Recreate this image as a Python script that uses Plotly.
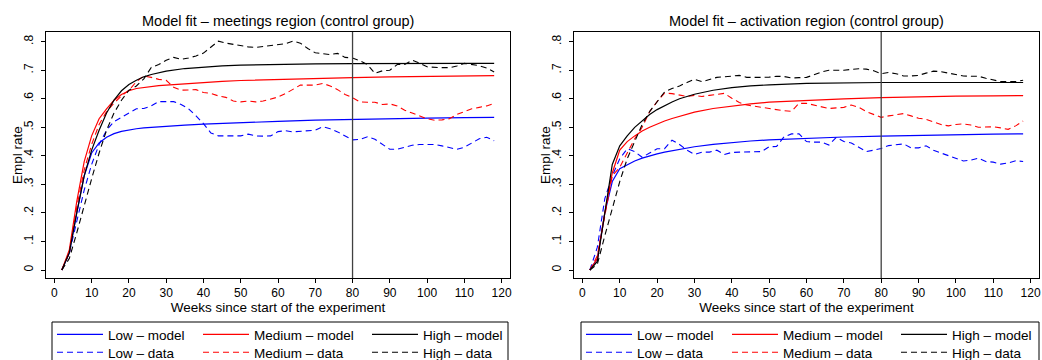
import plotly.graph_objects as go

# ---------------- data ----------------
weeks = list(range(2, 120, 2))
model_weeks = [2, 4, 6, 8, 10, 12, 14, 16, 18, 20, 22, 24, 26, 28, 30,
               35, 40, 45, 50, 60, 70, 80, 90, 100, 110, 118]

# Meetings region
meet_low_model = [0, 0.06, 0.2, 0.33, 0.41, 0.445, 0.465, 0.478, 0.486, 0.491, 0.495, 0.498, 0.5,
                  0.502, 0.504, 0.508, 0.511, 0.514, 0.517, 0.521, 0.525, 0.528, 0.53, 0.532, 0.534, 0.535]
meet_med_model = [0, 0.07, 0.24, 0.38, 0.47, 0.53, 0.565, 0.595, 0.615, 0.628, 0.636, 0.64, 0.643,
                  0.646, 0.648, 0.653, 0.658, 0.661, 0.664, 0.668, 0.671, 0.674, 0.677, 0.679, 0.68, 0.681]
meet_high_model = [0, 0.06, 0.2, 0.33, 0.42, 0.49, 0.55, 0.595, 0.628, 0.65, 0.665, 0.677, 0.685,
                   0.692, 0.697, 0.706, 0.711, 0.715, 0.718, 0.721, 0.722, 0.723, 0.724, 0.724, 0.724, 0.724]

meet_low_data = [0, 0.06, 0.17, 0.28, 0.37, 0.44, 0.49, 0.52, 0.535, 0.55,
                 0.565, 0.566, 0.575, 0.59, 0.59, 0.59, 0.58, 0.565, 0.54, 0.513,
                 0.48, 0.47, 0.47, 0.469, 0.47, 0.476, 0.47, 0.469, 0.47, 0.485,
                 0.488, 0.484, 0.486, 0.488, 0.49, 0.502, 0.495, 0.484, 0.47, 0.456,
                 0.458, 0.467, 0.458, 0.44, 0.423, 0.423, 0.43, 0.437, 0.44, 0.44,
                 0.44, 0.435, 0.428, 0.423, 0.43, 0.445, 0.46, 0.465, 0.453]
meet_med_data = [0, 0.06, 0.22, 0.35, 0.44, 0.51, 0.555, 0.585, 0.61, 0.63,
                 0.66, 0.68, 0.675, 0.668, 0.665, 0.64, 0.63, 0.632, 0.632, 0.622,
                 0.619, 0.61, 0.605, 0.592, 0.589, 0.592, 0.589, 0.592, 0.6, 0.606,
                 0.618, 0.632, 0.648, 0.648, 0.648, 0.654, 0.645, 0.632, 0.615, 0.604,
                 0.589, 0.588, 0.588, 0.58, 0.582, 0.575, 0.56, 0.55, 0.54, 0.53,
                 0.525, 0.526, 0.53, 0.545, 0.555, 0.565, 0.57, 0.575, 0.584]
meet_high_data = [0, 0.04, 0.13, 0.23, 0.32, 0.41, 0.49, 0.55, 0.595, 0.63,
                  0.645, 0.67, 0.71, 0.72, 0.735, 0.745, 0.738, 0.743, 0.75, 0.76,
                  0.78, 0.802, 0.795, 0.79, 0.787, 0.782, 0.78, 0.783, 0.787, 0.79,
                  0.793, 0.802, 0.795, 0.776, 0.761, 0.758, 0.755, 0.759, 0.745, 0.743,
                  0.733, 0.72, 0.689, 0.698, 0.70, 0.72, 0.72, 0.735, 0.725, 0.712,
                  0.71, 0.709, 0.709, 0.715, 0.724, 0.72, 0.716, 0.708, 0.694]

# Activation region
act_low_model = [0, 0.04, 0.2, 0.31, 0.355, 0.37, 0.382, 0.392, 0.4, 0.407, 0.413, 0.418, 0.423,
                 0.428, 0.432, 0.44, 0.447, 0.452, 0.456, 0.462, 0.466, 0.469, 0.472, 0.474, 0.476, 0.477]
act_med_model = [0, 0.04, 0.2, 0.34, 0.42, 0.45, 0.47, 0.487, 0.5, 0.512, 0.522, 0.531, 0.539,
                 0.546, 0.553, 0.566, 0.575, 0.582, 0.588, 0.595, 0.6, 0.604, 0.607, 0.609, 0.61, 0.611]
act_high_model = [0, 0.03, 0.2, 0.37, 0.435, 0.47, 0.5, 0.524, 0.545, 0.562, 0.577, 0.589, 0.6,
                  0.609, 0.616, 0.63, 0.639, 0.645, 0.649, 0.654, 0.656, 0.657, 0.657, 0.657, 0.657, 0.657]

act_low_data = [0, 0.08, 0.25, 0.33, 0.39, 0.425, 0.415, 0.395, 0.41, 0.425,
                0.425, 0.455, 0.44, 0.42, 0.405, 0.413, 0.413, 0.42, 0.405, 0.412,
                0.413, 0.413, 0.413, 0.415, 0.432, 0.433, 0.467, 0.477, 0.477, 0.45,
                0.448, 0.448, 0.438, 0.465, 0.45, 0.445, 0.43, 0.415, 0.42, 0.426,
                0.436, 0.44, 0.442, 0.428, 0.428, 0.435, 0.42, 0.41, 0.4, 0.39,
                0.382, 0.385, 0.392, 0.38, 0.378, 0.371, 0.375, 0.383, 0.38]
act_med_data = [0, 0.05, 0.19, 0.33, 0.36, 0.41, 0.46, 0.5, 0.555, 0.59,
                0.62, 0.618, 0.612, 0.608, 0.612, 0.608, 0.612, 0.615, 0.619, 0.602,
                0.587, 0.578, 0.574, 0.568, 0.564, 0.562, 0.558, 0.556, 0.584, 0.584,
                0.578, 0.572, 0.566, 0.568, 0.57, 0.578, 0.57, 0.555, 0.545, 0.535,
                0.54, 0.545, 0.548, 0.54, 0.532, 0.528, 0.52, 0.51, 0.505, 0.51,
                0.512, 0.508, 0.5, 0.5, 0.502, 0.498, 0.493, 0.505, 0.522]
act_high_data = [0, 0.02, 0.12, 0.22, 0.31, 0.39, 0.45, 0.51, 0.555, 0.59,
                 0.624, 0.636, 0.645, 0.657, 0.668, 0.66, 0.668, 0.675, 0.677, 0.68,
                 0.682, 0.675, 0.674, 0.675, 0.676, 0.679, 0.678, 0.673, 0.674, 0.675,
                 0.684, 0.694, 0.7, 0.7, 0.7, 0.703, 0.705, 0.704, 0.698, 0.688,
                 0.692, 0.688, 0.68, 0.68, 0.682, 0.69, 0.697, 0.695, 0.69, 0.686,
                 0.68, 0.679, 0.679, 0.672, 0.666, 0.66, 0.66, 0.66, 0.665]

groups = ["Low", "Medium", "High"]
panel_titles = ["Model fit \u2013 meetings region (control group)",
                "Model fit \u2013 activation region (control group)"]
x_tick_vals = [0, 10, 20, 30, 40, 50, 60, 70, 80, 90, 100, 110, 120]
y_tick_vals = [0, 0.1, 0.2, 0.3, 0.4, 0.5, 0.6, 0.7, 0.8]
y_tick_text = ["0", ".1", ".2", ".3", ".4", ".5", ".6", ".7", ".8"]
cutoff_week = 80
x_title = "Weeks since start of the experiment"
y_title = "Empl rate"

# ---------------- styling ----------------
W, H = 1042, 360
FONT = "Liberation Sans, Arial, sans-serif"
colors = {"Low": "#0000ff", "Medium": "#ff0000", "High": "#000000"}


def fx(p):
    return p / W


def fy(p):
    return 1 - p / H


panels = [
    dict(xa="x", ya="y", left=46, right=510,
         model=[meet_low_model, meet_med_model, meet_high_model],
         data=[meet_low_data, meet_med_data, meet_high_data], box=(52, 508)),
    dict(xa="x2", ya="y2", left=574, right=1039,
         model=[act_low_model, act_med_model, act_high_model],
         data=[act_low_data, act_med_data, act_high_data], box=(581, 1039)),
]

fig = go.Figure()
legend_layouts = {}
item_offsets = [5, 151, 320]
row_tops = [319, 337]
legend_counter = [0]


def new_legend(xpx, ypx):
    legend_counter[0] += 1
    n = legend_counter[0]
    name = "legend" if n == 1 else f"legend{n}"
    legend_layouts[name] = dict(
        x=fx(xpx), y=fy(ypx), xanchor="left", yanchor="top", orientation="v",
        bgcolor="rgba(0,0,0,0)", borderwidth=0, tracegroupgap=0,
        itemwidth=46, itemclick=False, itemdoubleclick=False,
        font=dict(family=FONT, size=13.5, color="black"))
    return name


for p in panels:
    for gi, g in enumerate(groups):
        lx = p["box"][0] + item_offsets[gi] - 5
        fig.add_trace(go.Scatter(
            x=model_weeks, y=p["model"][gi], mode="lines",
            name=f"{g} \u2013 model", xaxis=p["xa"], yaxis=p["ya"],
            line=dict(color=colors[g], width=1.2),
            legend=new_legend(lx, row_tops[0]), hoverinfo="skip"))
        fig.add_trace(go.Scatter(
            x=weeks, y=p["data"][gi], mode="lines",
            name=f"{g} \u2013 data", xaxis=p["xa"], yaxis=p["ya"],
            line=dict(color=colors[g], width=1.1, dash="6px,4px"),
            legend=new_legend(lx, row_tops[1]), hoverinfo="skip"))

axis_common = dict(showgrid=False, zeroline=False, showline=True, mirror=True,
                   linecolor="black", linewidth=1, ticks="outside", ticklen=4,
                   tickcolor="black", tickwidth=1, automargin=False,
                   tickfont=dict(family=FONT, size=12, color="black"))

layout = dict(
    width=W, height=H, margin=dict(l=0, r=0, t=0, b=0, autoexpand=False),
    paper_bgcolor="white", plot_bgcolor="white",
    font=dict(family=FONT, size=12, color="black"),
    showlegend=True,
)

for i, p in enumerate(panels):
    xkey = "xaxis" if i == 0 else "xaxis2"
    ykey = "yaxis" if i == 0 else "yaxis2"
    layout[xkey] = dict(axis_common, domain=[fx(p["left"]), fx(p["right"])],
                        range=[-2.25, 122.25], tickmode="array", tickvals=x_tick_vals,
                        anchor=p["ya"],
                        title=dict(text=x_title, font=dict(family=FONT, size=13.5), standoff=0))
    layout[ykey] = dict(axis_common, domain=[fy(278), fy(32)],
                        range=[-0.028, 0.834], tickmode="array", tickvals=y_tick_vals,
                        ticktext=y_tick_text, tickangle=-90, anchor=p["xa"],
                        ticklabelstandoff=3)

layout.update(legend_layouts)
fig.update_layout(**layout)

for i, p in enumerate(panels):
    fig.add_annotation(text=panel_titles[i], xref=f"{p['xa']} domain", x=0.5,
                       yref="paper", y=fy(21), xanchor="center", yanchor="middle",
                       showarrow=False, font=dict(family=FONT, size=14.5, color="black"))
    fig.add_annotation(text=y_title, xref="paper", x=fx(p["left"] - 29),
                       yref=f"{p['ya']} domain", y=0.5, xanchor="center", yanchor="middle",
                       textangle=-90, showarrow=False,
                       font=dict(family=FONT, size=13.5, color="black"))
    fig.add_shape(type="line", xref=p["xa"], yref=f"{p['ya']} domain",
                  x0=cutoff_week, x1=cutoff_week, y0=0, y1=1,
                  line=dict(color="#404040", width=1.3))
    fig.add_shape(type="rect", xref="paper", yref="paper",
                  x0=fx(p["box"][0]), x1=fx(p["box"][1]), y0=fy(372), y1=fy(322),
                  line=dict(color="black", width=1), fillcolor="rgba(0,0,0,0)")

fig.write_html("out.html")
